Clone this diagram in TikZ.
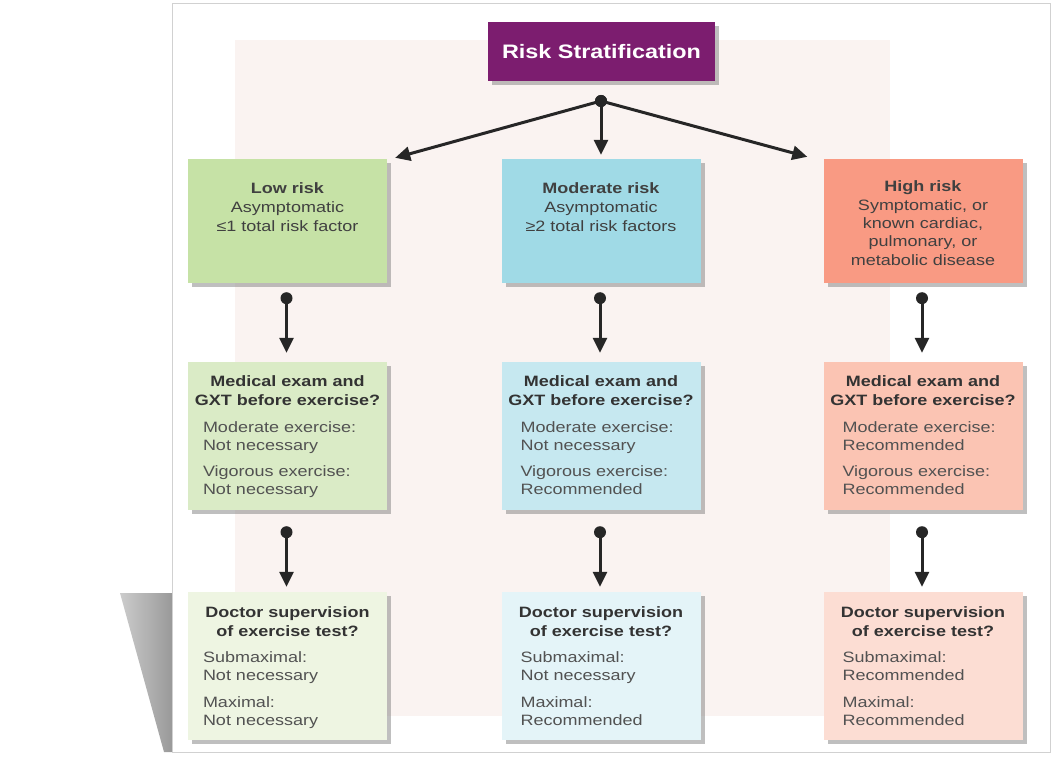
\documentclass[tikz,border=0pt]{standalone}
\usepackage{fontspec}
\setmainfont[FakeStretch=1.2]{Liberation Sans}
\usepackage{tikz}
\usetikzlibrary{shapes,arrows.meta,backgrounds,positioning,calc,shadows}

\definecolor{stratpurple}{HTML}{7C1D6F}
\definecolor{lowA}{HTML}{C6E2A6}
\definecolor{lowB}{HTML}{DAEBC6}
\definecolor{lowC}{HTML}{EEF5E2}
\definecolor{modA}{HTML}{A0DAE6}
\definecolor{modB}{HTML}{C6E8F0}
\definecolor{modC}{HTML}{E4F4F8}
\definecolor{highA}{HTML}{F99A83}
\definecolor{highB}{HTML}{FBC4B3}
\definecolor{highC}{HTML}{FCDDD3}
\definecolor{paper}{HTML}{FAF3F1}

\tikzset{
  riskbox/.style={rectangle,inner sep=0pt,minimum width=199pt,
    drop shadow={shadow xshift=4pt,shadow yshift=-4pt,fill=black!55,opacity=.45}},
  toptxt/.style={font=\fontsize{15}{19}\selectfont,text=black!75,align=center,inner sep=0pt,anchor=base},
  headtxt/.style={font=\fontsize{15}{19}\selectfont\bfseries,text=black!80,align=center,inner sep=0pt,anchor=base},
  bodytxt/.style={font=\fontsize{15}{18}\selectfont,text=black!68,align=left,inner sep=0pt,anchor=base west},
  dot/.style={circle,fill=black!85,inner sep=0pt,minimum size=12pt},
  link/.style={line width=3pt,draw=black!85,-{Triangle[length=15pt,width=14pt]}}
}

\begin{document}
\begin{tikzpicture}[x=1pt,y=-1pt]
  \useasboundingbox (0,0) rectangle (1057,762);

  % frame and page
  \shade[left color=black!20,right color=black!40] (120,593) -- (172,593) -- (172,752) -- (164,752) -- cycle;
  \draw[black!18,line width=1pt,fill=white] (172,4) rectangle (1050,752);
  \fill[paper] (235,40) rectangle (890,716);

  % title
  \node[riskbox,fill=stratpurple,minimum width=227pt,minimum height=59pt,
    text=white,font=\fontsize{19.5}{22}\selectfont\bfseries] (title) at (601.5,52) {Risk Stratification};
  \node[dot] (top) at (601,101) {};

  % boxes and vertical links (text anchors sit on the last baseline)
  \foreach \col/\x in {low/287.5,mod/601,high/923} {
    \node[riskbox,fill=\col A,minimum height=124pt] (\col1) at (\x,221) {};
    \node[riskbox,fill=\col B,minimum height=148pt] (\col2) at (\x,436) {};
    \node[riskbox,fill=\col C,minimum height=148pt] (\col3) at (\x,666) {};
    \node[dot] (\col-p1) at ($(\col1.south)+(-1,15)$) {};
    \node[dot] (\col-p2) at ($(\col2.south)+(-1,22)$) {};
    \draw[link] (\col-p1.center) -- ($(\col2.north)+(-1,-9)$);
    \draw[link] (\col-p2.center) -- ($(\col3.north)+(-1,-5)$);
    \node[headtxt] at ($(\col2.north)+(0,44)$) {Medical exam and\\GXT before exercise?};
    \node[headtxt] at ($(\col3.north)+(0,45)$) {Doctor supervision\\of exercise test?};
  }

  % links from the title
  \draw[link] (top.center) -- ($(low1.north east)+(8,-1)$);
  \draw[link] (top.center) -- ($(mod1.north)+(0,-4)$);
  \draw[link] (top.center) -- ($(high1.north west)+(-16,-2)$);
  \node[dot] at (top) {};

  % first row
  \node[toptxt] at (287.5,231) {\textbf{Low risk}\\Asymptomatic\\≤1 total risk factor};
  \node[toptxt] at (601,231) {\textbf{Moderate risk}\\Asymptomatic\\≥2 total risk factors};
  \node[toptxt,font=\fontsize{15}{18.3}\selectfont] at (923,265)
    {\textbf{High risk}\\Symptomatic, or\\known cardiac,\\pulmonary, or\\metabolic disease};

  % second row
  \node[bodytxt] at ($(low2.north west)+(15,89)$) {Moderate exercise:\\Not necessary};
  \node[bodytxt] at ($(low2.north west)+(15,133)$) {Vigorous exercise:\\Not necessary};
  \node[bodytxt] at ($(mod2.north west)+(19,89)$) {Moderate exercise:\\Not necessary};
  \node[bodytxt] at ($(mod2.north west)+(19,133)$) {Vigorous exercise:\\Recommended};
  \node[bodytxt] at ($(high2.north west)+(19,89)$) {Moderate exercise:\\Recommended};
  \node[bodytxt] at ($(high2.north west)+(19,133)$) {Vigorous exercise:\\Recommended};

  % third row
  \node[bodytxt] at ($(low3.north west)+(15,89)$) {Submaximal:\\Not necessary};
  \node[bodytxt] at ($(low3.north west)+(15,134)$) {Maximal:\\Not necessary};
  \node[bodytxt] at ($(mod3.north west)+(19,89)$) {Submaximal:\\Not necessary};
  \node[bodytxt] at ($(mod3.north west)+(19,134)$) {Maximal:\\Recommended};
  \node[bodytxt] at ($(high3.north west)+(19,89)$) {Submaximal:\\Recommended};
  \node[bodytxt] at ($(high3.north west)+(19,134)$) {Maximal:\\Recommended};
\end{tikzpicture}
\end{document}
